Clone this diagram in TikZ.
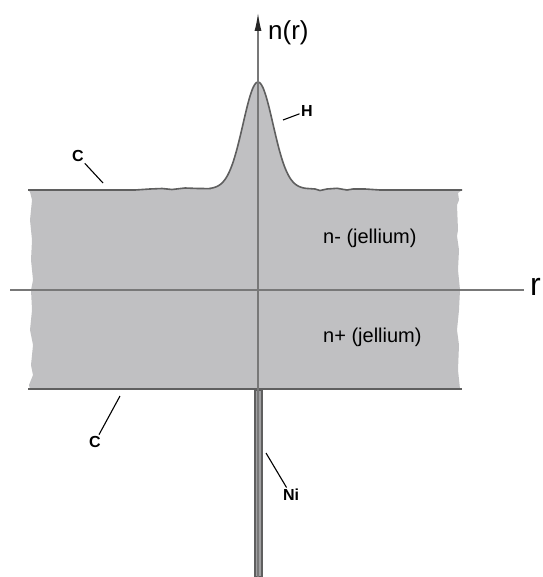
\documentclass[tikz,border=0pt]{standalone}
\usepackage{fontspec}
\setmainfont{Liberation Sans}
\usepackage{xcolor}
\definecolor{bulk}{RGB}{192, 192, 194}
\definecolor{edge}{RGB}{95, 95, 95}
\definecolor{axisgray}{RGB}{120, 120, 120}
\definecolor{rodgray}{RGB}{160, 160, 162}
\usetikzlibrary{arrows.meta}

% upper surface of the slab, with the H peak on the axis
\newcommand{\topedge}{(28,190) -- (135,190) -- (150,189) -- (162,188.5) -- (172,189.5)
  -- (185,188) -- (198,188.5) -- (210,188.6)
  -- plot[domain=-48:48, samples=61, smooth] ({258+\x},{189-107*exp(-(\x)^2/450)})
  -- (315,189) -- (320,190.5) -- (327,189) -- (337,188.3) -- (347,190) -- (353,189)
  -- (365,189) -- (380,190) -- (462,190)}

\begin{document}
\begin{tikzpicture}[
        x=1pt, y=-1pt,
        surf/.style={draw=edge, line width=1.6pt},
        axis/.style={draw=axisgray, line width=1.2pt},
        rod/.style={draw=edge, fill=rodgray, line width=1.2pt},
        ptr/.style={black, line width=1.1pt},
        tag/.style={inner sep=1.5pt, font=\fontsize{16}{18}\selectfont\bfseries},
        lbl/.style={inner sep=0pt, font=\fontsize{20}{24}\selectfont}
    ]
    \useasboundingbox (0,0) rectangle (542,577);

    % slab
    \fill[bulk] \topedge -- (458,193) -- (459,200) -- (457,205) -- (458,230) -- (457,236)
        -- (459,250) -- (458,270) -- (460,290) -- (459,310) -- (457,330) -- (459,345)
        -- (458,370) -- (460,389) -- (30,389) -- (29,385) -- (33,375) -- (31,365)
        -- (33,345) -- (30,330) -- (32,310) -- (31,290) -- (33,280) -- (31,260)
        -- (32,240) -- (30,220) -- (32,200) -- (30,192) -- cycle;

    % axes
    \coordinate (xl) at (10,290);
    \coordinate (xr) at (524,290);
    \coordinate (yb) at (258,577);
    \coordinate (yt) at (258,13);
    \draw[axis] (xl) -- (xr);

    \draw[surf] \topedge;
    \draw[surf] (28,389) -- (462,389);

    % Ni tip
    \draw[rod] (255,390) rectangle (262,577);
    \draw[axis, -{Latex[length=18pt, width=7pt, color=black!85]}] (yb) -- (yt);

    \node[lbl, anchor=west, font=\fontsize{26}{30}\selectfont] (nr) at (268,33) {n(r)};
    \node[lbl, anchor=west, font=\fontsize{32}{36}\selectfont] (rr) at (530,287) {r};
    \node[lbl, anchor=west] (nminus) at (323,238) {n- (jellium)};
    \node[lbl, anchor=west] (nplus)  at (323,337) {n+ (jellium)};

    % labels
    \node[tag] (ctop) at (78,156) {C};
    \node[tag] (hlab) at (307,111) {H};
    \node[tag] (cbot) at (95,442) {C};
    \node[tag] (nilab) at (291,495) {Ni};
    \coordinate (ctopend) at (103,183);
    \coordinate (hend) at (283,120);
    \coordinate (cbotend) at (120,396);
    \coordinate (niend) at (266,453);
    \draw[ptr] (ctop) -- (ctopend);
    \draw[ptr] (hlab) -- (hend);
    \draw[ptr] (cbot) -- (cbotend);
    \draw[ptr] (nilab) -- (niend);
\end{tikzpicture}
\end{document}
